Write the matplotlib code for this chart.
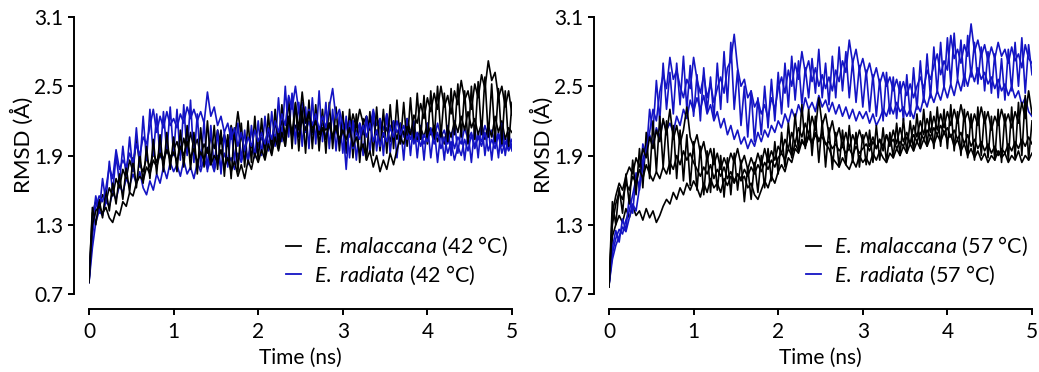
import numpy as np
import matplotlib
matplotlib.use("Agg")
import matplotlib.pyplot as plt

plt.rcParams['font.family'] = ['Lato', 'DejaVu Sans']
plt.rcParams['mathtext.fontset'] = 'custom'
plt.rcParams['mathtext.it'] = 'Lato:italic'
plt.rcParams['mathtext.rm'] = 'Lato'

# RMSD traces read off the figure, sampled every 0.04 ns (0 - 5 ns)
# 42 C panel
mal42_a = [0.80,
    1.30, 1.42, 1.46, 1.40, 1.45, 1.36, 1.32, 1.42, 1.38, 1.50, 1.46, 1.58, 1.55, 1.66, 1.72, 1.68, 1.80, 1.74, 1.86, 1.80, 1.92, 1.84, 1.95, 1.86, 1.93,
    1.85, 1.98, 1.90, 2.02, 1.88, 1.96, 1.84, 1.93, 1.86, 1.97, 1.82, 1.90, 1.84, 1.95, 1.80, 1.88, 1.76, 1.85, 1.72, 1.82, 1.70, 1.86, 1.78, 1.92, 1.84,
    1.95, 1.86, 2.00, 1.90, 2.06, 1.94, 2.10, 1.98, 2.22, 2.08, 2.35, 2.12, 2.45, 2.18, 2.28, 2.10, 2.20, 2.02, 2.14, 2.04, 2.18, 2.06, 2.15, 2.02, 2.12,
    2.04, 2.14, 1.98, 2.06, 1.92, 2.00, 1.86, 1.94, 1.80, 1.90, 1.76, 1.86, 1.78, 1.92, 1.82, 1.95, 2.05, 2.00, 2.15, 2.08, 2.25, 2.18, 2.35, 2.22, 2.40,
    2.28, 2.44, 2.30, 2.50, 2.32, 2.42, 2.26, 2.46, 2.34, 2.55, 2.38, 2.46, 2.30, 2.52, 2.40, 2.60, 2.48, 2.72, 2.55, 2.62, 2.40, 2.50, 2.32, 2.46, 2.25]
mal42_b = [0.82,
    1.40, 1.50, 1.44, 1.56, 1.50, 1.62, 1.55, 1.70, 1.62, 1.78, 1.70, 1.86, 1.76, 2.05, 1.82, 1.76, 1.88, 1.80, 1.92, 1.84, 1.96, 1.86, 1.98, 1.88, 1.95,
    2.02, 1.90, 2.05, 1.92, 2.10, 1.96, 2.04, 1.90, 2.00, 1.92, 2.06, 1.96, 2.12, 2.00, 2.08, 1.98, 2.16, 2.04, 2.28, 2.06, 1.96, 1.88, 2.00, 1.90, 2.02,
    2.10, 1.98, 2.14, 2.02, 2.18, 2.06, 2.20, 2.08, 2.24, 2.10, 2.16, 2.06, 2.22, 2.12, 2.26, 2.14, 2.20, 2.08, 2.24, 2.12, 2.18, 2.06, 2.16, 2.04, 2.12,
    2.20, 2.10, 2.26, 2.14, 2.30, 2.18, 2.24, 2.12, 2.20, 2.08, 2.18, 2.06, 2.14, 2.02, 2.16, 2.04, 2.18, 2.08, 2.22, 2.10, 2.16, 2.04, 2.14, 2.06, 2.18,
    2.08, 2.16, 2.02, 2.12, 2.00, 2.14, 2.06, 2.20, 2.10, 2.24, 2.12, 2.28, 2.14, 2.22, 2.08, 2.18, 2.04, 2.16, 2.06, 2.24, 2.10, 2.20, 2.04, 2.14, 2.10]
mal42_c = [0.80,
    1.45, 1.30, 1.52, 1.36, 1.60, 1.42, 1.66, 1.48, 1.74, 1.52, 1.80, 1.58, 1.88, 1.62, 1.92, 1.66, 1.98, 1.70, 2.04, 1.74, 2.08, 1.76, 2.10, 1.78, 2.06,
    1.76, 2.12, 1.80, 2.16, 1.78, 2.10, 1.74, 2.14, 1.80, 2.20, 1.82, 2.16, 1.78, 2.12, 1.72, 2.08, 1.70, 2.14, 1.76, 2.18, 1.80, 2.20, 1.84, 2.24, 1.86,
    2.22, 1.88, 2.26, 1.92, 2.30, 1.96, 2.34, 1.98, 2.40, 1.96, 2.36, 1.94, 2.32, 1.92, 2.38, 1.96, 2.34, 1.94, 2.30, 1.92, 2.36, 1.96, 2.32, 1.94, 2.28,
    1.92, 2.30, 1.88, 2.26, 1.84, 2.22, 1.86, 2.28, 1.90, 2.32, 1.94, 2.30, 1.92, 2.34, 1.96, 2.38, 2.00, 2.36, 1.98, 2.40, 2.02, 2.44, 2.04, 2.42, 2.00,
    2.46, 2.04, 2.50, 2.06, 2.44, 2.02, 2.48, 2.08, 2.52, 2.06, 2.46, 2.00, 2.50, 2.04, 2.54, 2.08, 2.58, 2.06, 2.52, 2.02, 2.48, 2.00, 2.46, 1.98, 2.36]
rad42_a = [0.80,
    1.20, 1.45, 1.55, 1.50, 1.62, 1.80, 1.70, 1.95, 1.78, 1.86, 1.80, 1.92, 1.84, 2.00, 1.90, 2.06, 2.00, 2.15, 2.30, 2.10, 2.24, 2.14, 2.28, 2.16, 2.22,
    2.14, 2.26, 2.18, 2.32, 2.22, 2.30, 2.20, 2.28, 2.18, 2.45, 2.24, 2.32, 2.16, 2.24, 2.10, 2.18, 2.04, 2.14, 1.98, 2.10, 1.94, 2.06, 1.98, 2.12, 2.02,
    2.10, 2.00, 2.14, 2.04, 2.20, 2.10, 2.26, 2.16, 2.42, 2.30, 2.50, 2.28, 2.36, 2.20, 2.30, 2.16, 2.26, 2.12, 2.24, 2.14, 2.32, 2.48, 2.22, 2.30, 2.16,
    1.78, 2.20, 1.96, 2.10, 2.04, 2.16, 2.06, 2.18, 2.02, 2.12, 1.98, 2.10, 2.02, 2.14, 2.06, 2.20, 2.08, 2.16, 2.04, 2.12, 2.00, 2.10, 1.98, 2.08, 2.02,
    2.12, 2.00, 2.10, 1.96, 2.06, 1.92, 2.02, 1.86, 1.98, 1.90, 2.04, 1.94, 2.08, 1.96, 2.06, 1.98, 2.10, 1.94, 2.04, 1.96, 2.08, 1.92, 2.02, 1.94, 2.00]
rad42_b = [0.80,
    1.10, 1.32, 1.42, 1.38, 1.50, 1.46, 1.58, 1.52, 1.64, 1.58, 1.70, 1.64, 1.74, 1.66, 1.76, 1.62, 1.56, 1.68, 1.60, 1.74, 1.66, 1.80, 1.70, 1.84, 1.76,
    1.82, 1.72, 1.86, 1.74, 1.80, 1.70, 1.84, 1.76, 1.88, 1.78, 1.86, 1.76, 1.90, 1.80, 1.92, 1.82, 1.88, 1.78, 1.92, 1.84, 1.96, 1.86, 2.00, 1.90, 1.98,
    2.06, 1.94, 2.10, 1.98, 2.08, 2.00, 2.14, 2.04, 2.18, 2.06, 2.16, 2.08, 2.22, 2.10, 2.20, 2.08, 2.24, 2.12, 2.18, 2.06, 2.16, 2.04, 2.12, 2.02, 2.10,
    2.16, 2.06, 2.20, 2.10, 2.18, 2.08, 2.24, 2.14, 2.30, 2.16, 2.22, 2.12, 2.26, 2.14, 2.20, 2.10, 2.16, 2.06, 2.14, 2.04, 2.12, 2.02, 2.10, 2.00, 2.08,
    2.14, 2.04, 2.18, 2.06, 2.12, 2.00, 2.10, 1.96, 2.06, 2.00, 2.14, 2.04, 2.10, 1.98, 2.08, 2.02, 2.16, 2.06, 2.12, 2.00, 2.10, 1.98, 2.06, 1.96, 2.04]
rad42_c = [0.82,
    1.30, 1.55, 1.40, 1.70, 1.50, 1.85, 1.58, 1.90, 1.66, 1.98, 1.72, 2.06, 1.76, 2.14, 1.80, 2.24, 1.86, 2.30, 1.90, 2.26, 1.88, 2.28, 1.92, 2.32, 1.90,
    2.30, 1.86, 2.34, 1.90, 2.38, 1.84, 2.26, 1.80, 2.20, 1.76, 2.16, 1.78, 2.12, 1.74, 2.10, 1.80, 2.14, 1.84, 2.18, 1.86, 2.12, 1.82, 2.16, 1.88, 2.20,
    1.90, 2.24, 1.94, 2.28, 1.98, 2.40, 2.02, 2.50, 2.06, 2.44, 2.00, 2.36, 1.98, 2.32, 1.96, 2.40, 2.00, 2.46, 2.02, 2.36, 1.96, 2.30, 1.94, 2.26, 1.92,
    2.24, 1.88, 2.20, 1.86, 2.18, 1.90, 2.24, 1.92, 2.28, 1.94, 2.22, 1.90, 2.26, 1.92, 2.20, 1.88, 2.18, 1.86, 2.22, 1.90, 2.20, 1.88, 2.16, 1.86, 2.18,
    1.88, 2.14, 1.84, 2.12, 1.86, 2.16, 1.90, 2.20, 1.92, 2.14, 1.86, 2.10, 1.84, 2.16, 1.88, 2.20, 1.90, 2.14, 1.86, 2.12, 1.88, 2.18, 1.90, 2.10, 1.94]

# 57 C panel
mal57_a = [0.76,
    1.40, 1.55, 1.66, 1.60, 1.72, 1.80, 1.74, 1.88, 1.80, 1.96, 1.88, 2.06, 1.96, 2.12, 2.02, 2.22, 2.08, 2.30, 2.04, 2.16, 2.00, 2.12, 2.32, 2.06, 1.98,
    2.08, 1.92, 2.02, 1.86, 1.96, 1.82, 1.92, 1.78, 1.88, 1.80, 1.92, 1.84, 1.96, 1.82, 1.90, 1.78, 1.88, 1.80, 1.92, 1.82, 1.96, 1.84, 1.94, 1.86, 1.98,
    1.92, 2.04, 1.96, 2.10, 2.00, 2.14, 2.06, 2.18, 2.08, 2.24, 2.12, 2.40, 2.16, 2.26, 2.08, 2.20, 2.04, 2.14, 1.98, 2.10, 1.96, 2.08, 2.00, 2.12, 2.02,
    2.10, 1.98, 2.06, 1.96, 2.04, 1.94, 2.08, 1.98, 2.12, 2.00, 2.14, 2.02, 2.10, 2.00, 2.16, 2.06, 2.20, 2.08, 2.22, 2.10, 2.24, 2.12, 2.26, 2.14, 2.28,
    2.16, 2.30, 2.18, 2.34, 2.20, 2.28, 2.14, 2.26, 2.16, 2.32, 2.18, 2.28, 2.12, 2.24, 2.16, 2.30, 2.18, 2.26, 2.14, 2.28, 2.18, 2.36, 2.22, 2.46, 2.26]
mal57_b = [0.76,
    1.20, 1.30, 1.38, 1.32, 1.44, 1.36, 1.46, 1.38, 1.42, 1.34, 1.44, 1.36, 1.42, 1.32, 1.38, 1.46, 1.52, 1.48, 1.58, 1.52, 1.62, 1.56, 1.66, 1.60, 1.68,
    1.62, 1.54, 1.66, 1.58, 1.70, 1.62, 1.66, 1.58, 1.70, 1.64, 1.72, 1.66, 1.74, 1.68, 1.72, 1.62, 1.66, 1.56, 1.52, 1.60, 1.68, 1.62, 1.72, 1.66, 1.76,
    1.82, 1.76, 1.88, 1.84, 1.96, 1.92, 2.02, 1.98, 2.06, 2.00, 2.08, 2.02, 2.10, 2.00, 1.96, 1.88, 1.84, 1.80, 1.88, 1.82, 1.78, 1.86, 1.80, 1.90, 1.84,
    1.88, 1.82, 1.92, 1.86, 1.94, 1.88, 1.84, 1.92, 1.88, 1.96, 1.90, 1.98, 1.92, 2.00, 1.94, 2.02, 1.96, 2.04, 1.98, 2.06, 2.00, 2.08, 2.02, 2.10, 2.04,
    2.08, 1.98, 2.04, 1.94, 2.00, 1.90, 1.96, 1.88, 1.94, 1.86, 1.92, 1.84, 1.90, 1.86, 1.94, 1.88, 1.92, 1.84, 1.90, 1.86, 1.94, 1.84, 1.90, 1.86, 1.92]
mal57_c = [0.78,
    1.30, 1.48, 1.58, 1.52, 1.66, 1.60, 1.72, 1.66, 1.78, 1.70, 1.82, 1.74, 1.68, 1.76, 1.70, 1.80, 1.74, 1.84, 1.78, 1.90, 1.82, 1.94, 1.86, 1.92, 1.84,
    1.78, 1.72, 1.80, 1.74, 1.82, 1.70, 1.78, 1.72, 1.80, 1.70, 1.76, 1.68, 1.74, 1.70, 1.78, 1.72, 1.80, 1.74, 1.82, 1.76, 1.84, 1.78, 1.86, 1.80, 1.88,
    1.92, 1.86, 1.96, 1.90, 2.00, 1.94, 2.04, 1.98, 2.08, 2.02, 2.10, 2.04, 2.06, 2.00, 2.02, 1.96, 2.00, 1.94, 1.98, 1.92, 1.96, 1.90, 1.98, 1.92, 1.96,
    2.00, 1.94, 2.02, 1.96, 2.04, 1.98, 2.08, 2.00, 2.04, 1.96, 2.02, 1.98, 2.06, 2.00, 2.08, 2.02, 2.10, 2.04, 2.12, 2.06, 2.14, 2.08, 2.16, 2.10, 2.14,
    2.06, 2.12, 2.04, 2.10, 2.00, 2.08, 1.98, 2.04, 1.96, 2.02, 1.94, 2.00, 1.92, 1.98, 1.90, 1.96, 1.92, 2.00, 1.94, 2.02, 1.96, 2.04, 1.98, 2.06, 2.00]
mal57_d = [0.78,
    1.50, 1.30, 1.62, 1.40, 1.74, 1.48, 1.86, 1.56, 1.96, 1.62, 2.10, 1.70, 2.20, 1.76, 2.24, 1.80, 2.20, 1.74, 2.16, 1.70, 2.12, 1.68, 2.08, 1.64, 2.02,
    1.60, 1.98, 1.56, 1.94, 1.58, 1.96, 1.60, 1.90, 1.54, 1.88, 1.56, 1.92, 1.60, 1.86, 1.50, 1.80, 1.52, 1.84, 1.58, 1.90, 1.62, 1.96, 1.68, 2.02, 1.74,
    2.10, 1.80, 2.18, 1.88, 2.26, 1.94, 2.34, 1.96, 2.30, 1.90, 2.24, 1.84, 2.20, 1.80, 2.14, 1.78, 2.10, 1.80, 2.12, 1.82, 2.16, 1.84, 2.10, 1.80, 2.08,
    1.82, 2.12, 1.84, 2.16, 1.86, 2.14, 1.84, 2.10, 1.88, 2.18, 1.90, 2.22, 1.92, 2.20, 1.94, 2.26, 1.96, 2.30, 1.98, 2.28, 1.96, 2.32, 1.98, 2.30, 1.96,
    2.34, 1.94, 2.28, 1.90, 2.30, 1.88, 2.26, 1.86, 2.32, 1.90, 2.28, 1.88, 2.24, 1.86, 2.30, 1.84, 2.26, 1.86, 2.32, 1.88, 2.36, 1.90, 2.42, 1.86, 2.20]
rad57_a = [0.78,
    1.00, 1.12, 1.20, 1.28, 1.24, 1.36, 1.48, 1.42, 1.62, 1.80, 1.96, 2.10, 2.30, 2.20, 2.45, 2.60, 2.48, 2.75, 2.56, 2.64, 2.50, 2.40, 2.56, 2.48, 2.75,
    2.56, 2.44, 2.60, 2.40, 2.52, 2.36, 2.48, 2.58, 2.44, 2.66, 2.72, 2.95, 2.66, 2.50, 2.56, 2.40, 2.46, 2.32, 2.38, 2.26, 2.34, 2.22, 2.40, 2.30, 2.48,
    2.58, 2.44, 2.64, 2.50, 2.70, 2.56, 2.80, 2.62, 2.72, 2.54, 2.66, 2.50, 2.60, 2.48, 2.58, 2.46, 2.64, 2.54, 2.72, 2.62, 2.90, 2.70, 2.82, 2.64, 2.74,
    2.60, 2.70, 2.56, 2.66, 2.52, 2.62, 2.50, 2.58, 2.46, 2.56, 2.44, 2.54, 2.42, 2.52, 2.40, 2.50, 2.58, 2.48, 2.64, 2.56, 2.68, 2.78, 2.60, 2.72, 2.64,
    2.94, 2.74, 2.82, 2.70, 2.86, 2.76, 3.04, 2.80, 2.90, 2.76, 2.86, 2.72, 2.84, 2.74, 2.88, 2.76, 2.82, 2.70, 2.84, 2.72, 2.78, 2.66, 2.86, 2.74, 2.70]
rad57_b = [0.78,
    1.05, 1.18, 1.26, 1.22, 1.34, 1.42, 1.56, 1.70, 1.64, 1.86, 1.98, 2.08, 2.00, 2.14, 2.06, 2.20, 2.12, 2.18, 2.10, 2.24, 2.16, 2.30, 2.22, 2.38, 2.28,
    2.40, 2.30, 2.42, 2.26, 2.34, 2.20, 2.28, 2.14, 2.22, 2.08, 2.16, 2.04, 2.12, 2.00, 2.06, 1.96, 2.04, 1.98, 2.10, 2.02, 2.12, 2.06, 2.16, 2.10, 2.20,
    2.14, 2.26, 2.18, 2.30, 2.22, 2.34, 2.26, 2.40, 2.30, 2.36, 2.28, 2.42, 2.32, 2.38, 2.28, 2.36, 2.26, 2.34, 2.24, 2.32, 2.22, 2.30, 2.20, 2.28, 2.22,
    2.28, 2.18, 2.26, 2.16, 2.22, 2.30, 2.24, 2.34, 2.26, 2.36, 2.28, 2.32, 2.24, 2.30, 2.22, 2.34, 2.28, 2.40, 2.32, 2.44, 2.36, 2.46, 2.38, 2.50, 2.40,
    2.52, 2.42, 2.56, 2.46, 2.60, 2.50, 2.64, 2.54, 2.66, 2.56, 2.62, 2.52, 2.58, 2.48, 2.56, 2.46, 2.52, 2.42, 2.50, 2.40, 2.46, 2.34, 2.40, 2.28, 2.24]
rad57_c = [0.78,
    1.10, 1.25, 1.15, 1.35, 1.25, 1.55, 1.40, 1.75, 1.60, 2.00, 1.90, 2.30, 2.10, 2.55, 2.20, 2.70, 2.30, 2.62, 2.26, 2.70, 2.34, 2.76, 2.30, 2.68, 2.24,
    2.60, 2.20, 2.66, 2.28, 2.58, 2.22, 2.70, 2.30, 2.80, 2.36, 2.88, 2.30, 2.64, 2.16, 2.50, 2.06, 2.46, 2.02, 2.40, 2.08, 2.50, 2.14, 2.56, 2.20, 2.62,
    2.26, 2.70, 2.32, 2.76, 2.38, 2.72, 2.34, 2.66, 2.40, 2.74, 2.44, 2.82, 2.40, 2.70, 2.34, 2.76, 2.40, 2.84, 2.46, 2.80, 2.40, 2.72, 2.36, 2.68, 2.32,
    2.64, 2.28, 2.60, 2.24, 2.56, 2.20, 2.62, 2.26, 2.58, 2.22, 2.54, 2.20, 2.60, 2.24, 2.66, 2.30, 2.72, 2.36, 2.78, 2.40, 2.84, 2.44, 2.88, 2.48, 2.92,
    2.52, 2.96, 2.56, 2.90, 2.50, 2.94, 2.58, 2.88, 2.52, 2.84, 2.46, 2.80, 2.44, 2.78, 2.40, 2.74, 2.38, 2.82, 2.46, 2.88, 2.50, 2.92, 2.44, 2.86, 2.60]

temps = ['42', '57']
yticks = [0.7, 1.3, 1.9, 2.5, 3.1]
xticks = [0, 1, 2, 3, 4, 5]
black = '#000000'
blue = '#1414c4'

panels = [
    {'mal': [mal42_b, mal42_c, mal42_a], 'rad': [rad42_b, rad42_c, rad42_a]},
    {'mal': [mal57_b, mal57_d, mal57_c, mal57_a], 'rad': [rad57_b, rad57_c, rad57_a]},
]

fig = plt.figure(figsize=(10.39, 3.72), dpi=100)
lefts = [89 / 1039, 609 / 1039]

for i, p in enumerate(panels):
    ax = fig.add_axes([lefts[i], 78 / 372, 423 / 1039, 277 / 372])
    # interleave colours so neither set sits fully on top
    rads = p['rad']
    mals = p['mal']
    for k in range(max(len(rads), len(mals))):
        if k < len(rads):
            y = rads[k]
            ax.plot(np.linspace(0, 5, len(y)), y, color=blue, lw=1.2)
        if k < len(mals):
            y = mals[k]
            ax.plot(np.linspace(0, 5, len(y)), y, color=black, lw=1.2)

    ax.plot([], [], color=black, lw=1.3,
            label=r'$\it{E.\ malaccana}$ (' + temps[i] + ' °C)')
    ax.plot([], [], color=blue, lw=1.3,
            label=r'$\it{E.\ radiata}$ (' + temps[i] + ' °C)')
    leg = ax.legend(loc='lower right', bbox_to_anchor=(0.99, 0.025), frameon=False,
                    fontsize=15.5, handlelength=0.7, handletextpad=0.6,
                    labelspacing=0.25, borderpad=0, borderaxespad=0)

    ax.set_xlim(0, 5)
    ax.set_ylim(0.7, 3.1)
    ax.set_xticks(xticks)
    ax.set_yticks(yticks)
    ax.set_yticklabels(['%.1f' % v for v in yticks])
    for s in ['top', 'right']:
        ax.spines[s].set_visible(False)
    for s in ['left', 'bottom']:
        ax.spines[s].set_position(('outward', 11))
        ax.spines[s].set_linewidth(1.4)
    ax.tick_params(width=1.4, length=4.5, labelsize=15, direction='out')
    ax.tick_params(axis='x', pad=5)
    ax.tick_params(axis='y', pad=3)
    ax.set_ylabel('RMSD (Å)', fontsize=16)
    ax.set_xlabel('Time (ns)', fontsize=15)
    ax.yaxis.set_label_coords(-0.13, 0.54)
    ax.xaxis.set_label_coords(0.5, -0.195)

fig.savefig('out.png', dpi=100)
